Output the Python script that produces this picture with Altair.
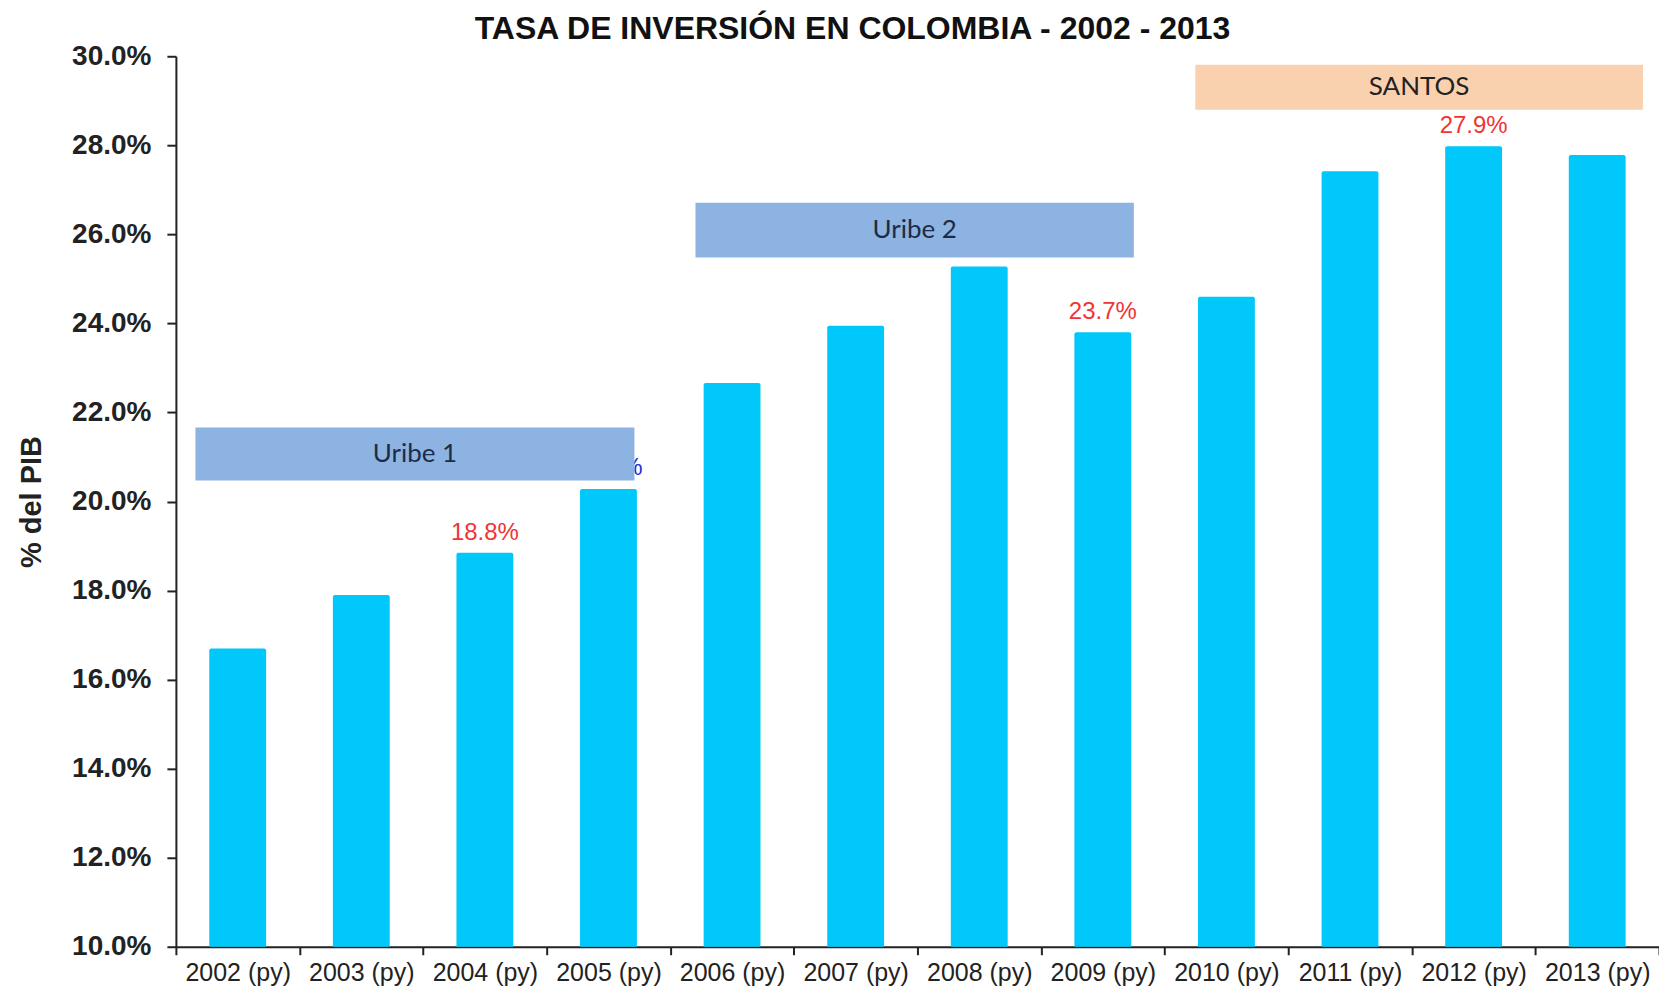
import altair as alt
import pandas as pd

# ---- data ----
years = ["2002 (py)", "2003 (py)", "2004 (py)", "2005 (py)", "2006 (py)", "2007 (py)",
         "2008 (py)", "2009 (py)", "2010 (py)", "2011 (py)", "2012 (py)", "2013 (py)"]
values = [16.7, 17.9, 18.85, 20.28, 22.66, 23.95, 25.28, 23.8, 24.6, 27.42, 27.98, 27.78]

label_years = ["2004 (py)", "2009 (py)", "2012 (py)"]
label_texts = ["18.8%", "23.7%", "27.9%"]

hidden_label_years = ["2005 (py)"]
hidden_label_texts = ["20.3%"]

# government periods: span in category units (0 = left edge of 2002, 12 = right edge of 2013)
period_names = ["Uribe 1", "Uribe 2", "SANTOS"]
period_start = [0.158, 4.204, 8.248]
period_end = [3.71, 7.751, 11.87]
period_low = [20.47, 25.48, 28.80]
period_high = [21.66, 26.71, 29.81]

y_ticks = [10, 12, 14, 16, 18, 20, 22, 24, 26, 28, 30]

# ---- styles ----
period_fill = ["#8DB3E2", "#8DB3E2", "#FAD1AF"]
period_text = ["#1E2B47", "#1E2B47", "#222222"]
BAR = "#00C8FA"

df = pd.DataFrame({"year": years, "value": values})
lab = pd.DataFrame({"year": label_years, "text": label_texts}).merge(df, on="year")
hid = pd.DataFrame({"year": hidden_label_years, "text": hidden_label_texts}).merge(df, on="year")
per = pd.DataFrame({"name": period_names, "x0": period_start, "x1": period_end,
                    "y0": period_low, "y1": period_high,
                    "fill": period_fill, "tcol": period_text})
per["xm"] = (per["x0"] + per["x1"]) / 2
per["ym"] = (per["y0"] + per["y1"]) / 2

yscale = alt.Scale(domain=[10, 30], nice=False, zero=False)
xscale = alt.Scale(paddingInner=0, paddingOuter=0)

x_enc = alt.X("year:N", sort=years, scale=xscale, title=None,
              axis=alt.Axis(labelAngle=0, tickBand="extent", labelFont="Liberation Sans",
                            labelFontSize=25, labelColor="#222222", tickSize=8,
                            labelPadding=6, domainColor="#222222", domainWidth=2,
                            tickColor="#222222", tickWidth=2, grid=False))
y_enc = alt.Y("value:Q", scale=yscale,
              axis=alt.Axis(values=y_ticks, labelExpr="format(datum.value, '.1f') + '%'",
                            labelFont="Liberation Sans", labelFontSize=28,
                            labelFontWeight="bold", labelColor="#222222",
                            tickSize=9, labelPadding=16, domainColor="#222222",
                            domainWidth=2, tickColor="#222222", tickWidth=2, grid=False,
                            title="% del PIB", titleFont="Liberation Sans",
                            titleFontSize=29, titleFontWeight="bold", titleColor="#222222",
                            titlePadding=25))

bars = alt.Chart(df).mark_bar(color=BAR, width=alt.RelativeBandSize(0.46),
                              cornerRadiusTopLeft=2, cornerRadiusTopRight=2).encode(
    x=x_enc, y=y_enc, y2=alt.datum(10))

hidden = alt.Chart(hid).mark_text(font="Liberation Sans", fontSize=24, color="#2A2AD8",
                                  baseline="alphabetic", dy=-14).encode(
    x=alt.X("year:N", sort=years), y=alt.Y("value:Q"), text="text:N")

labels = alt.Chart(lab).mark_text(font="Liberation Sans", fontSize=24, color="#F03434",
                                  baseline="alphabetic", dy=-13).encode(
    x=alt.X("year:N", sort=years), y=alt.Y("value:Q"), text="text:N")

main = alt.layer(bars, hidden, labels)

pscale = alt.Scale(domain=[0, 12], nice=False, zero=False)
boxes = alt.Chart(per).mark_rect().encode(
    x=alt.X("x0:Q", scale=pscale, axis=None), x2="x1:Q",
    y=alt.Y("y0:Q", scale=yscale, axis=None), y2="y1:Q",
    color=alt.Color("fill:N", scale=None))
box_text = alt.Chart(per).mark_text(font="Lato", fontSize=26, baseline="middle").encode(
    x=alt.X("xm:Q", scale=pscale, axis=None),
    y=alt.Y("ym:Q", scale=yscale, axis=None),
    text="name:N",
    color=alt.Color("tcol:N", scale=None))
periods = alt.layer(boxes, box_text)

chart = alt.layer(main, periods).resolve_scale(x="independent").resolve_axis(
    x="independent", y="independent").properties(
    width=1484, height=891,
    autosize=alt.AutoSizeParams(type="none"),
    padding={"left": 168, "top": 48, "right": 0, "bottom": 41},
    title=alt.TitleParams("TASA DE INVERSIÓN EN COLOMBIA - 2002 - 2013",
                          font="Liberation Sans", fontSize=32, fontWeight="bold",
                          color="#111111", anchor="middle", frame="group",
                          dx=-65, dy=18, offset=14),
).configure_view(stroke=None)

chart.save("out.html", embed_options={"renderer": "svg", "actions": False})
